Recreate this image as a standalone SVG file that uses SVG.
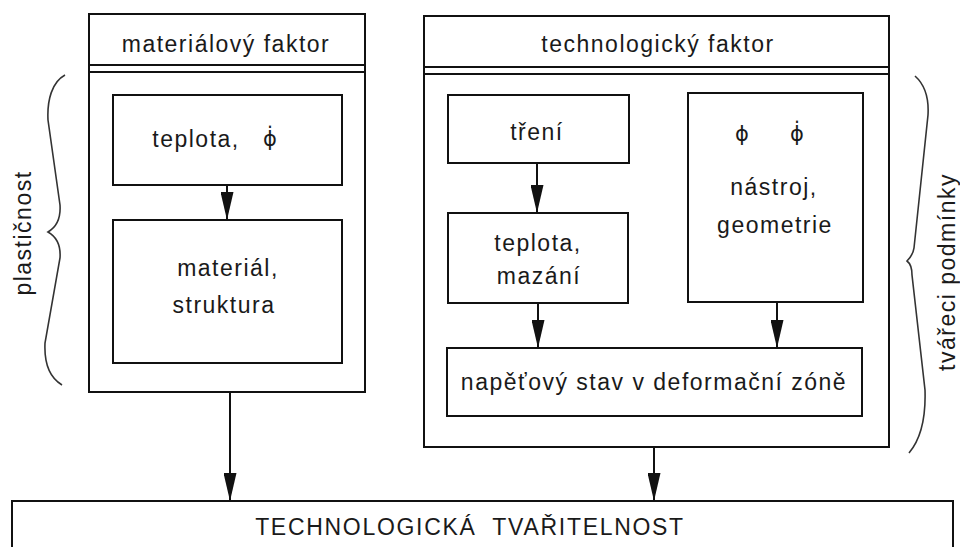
<svg xmlns="http://www.w3.org/2000/svg" width="960" height="547" viewBox="0 0 960 547">
<style>
  .box{fill:none;stroke:#111;stroke-width:2}
  .ln{fill:none;stroke:#111;stroke-width:2}
  .br{fill:none;stroke:#333;stroke-width:1.6}
  text{font-family:"Liberation Sans",Arial,sans-serif;font-size:23px;fill:#1a1a1a;letter-spacing:1.5px;text-anchor:middle}
  .phi{font-family:"DejaVu Sans",sans-serif;font-size:21px;letter-spacing:0}
</style>
<defs>
  <marker id="ah" viewBox="0 0 28 13" refX="28" refY="6.5" markerWidth="28" markerHeight="13" markerUnits="userSpaceOnUse" orient="auto">
    <path d="M0,0 L28,6.5 L0,13 Z" fill="#111"/>
  </marker>
</defs>
<rect width="960" height="547" fill="#fff"/>

<g id="material-factor">
  <rect class="box" x="89" y="14" width="276" height="378"/>
  <line class="ln" x1="89" y1="65" x2="365" y2="65"/>
  <line class="ln" x1="89" y1="72" x2="365" y2="72"/>
  <text x="226" y="52">materiálový faktor</text>
</g>
<g id="teplota-phi">
  <rect class="box" x="113" y="95" width="229" height="90"/>
  <text x="196" y="147">teplota,</text>
  <text class="phi" x="270" y="146">ϕ̇</text>
</g>
<g id="material-struktura">
  <rect class="box" x="113" y="220" width="229" height="143"/>
  <text x="228" y="276">materiál,</text>
  <text x="224" y="313">struktura</text>
</g>

<g id="tech-factor">
  <rect class="box" x="424" y="16" width="465" height="431"/>
  <line class="ln" x1="424" y1="67" x2="889" y2="67"/>
  <line class="ln" x1="424" y1="74" x2="889" y2="74"/>
  <text x="658" y="52">technologický faktor</text>
</g>
<g id="treni">
  <rect class="box" x="448" y="95" width="181" height="68"/>
  <text x="537" y="140">tření</text>
</g>
<g id="teplota-mazani">
  <rect class="box" x="448" y="213" width="180" height="90"/>
  <text x="538" y="251">teplota,</text>
  <text x="539" y="284">mazání</text>
</g>
<g id="nastroj-geometrie">
  <rect class="box" x="688" y="93" width="175" height="209"/>
  <text class="phi" x="742" y="141">ϕ</text>
  <text class="phi" x="797" y="141">ϕ̇</text>
  <text x="774" y="195">nástroj,</text>
  <text x="775" y="233">geometrie</text>
</g>
<g id="napetovy-stav">
  <rect class="box" x="447" y="348" width="415" height="68"/>
  <text x="654" y="390">napěťový stav v deformační zóně</text>
</g>

<g id="tvaritelnost">
  <rect class="box" x="12" y="501" width="941" height="70"/>
  <text x="470" y="535" xml:space="preserve" style="letter-spacing:1.7px">TECHNOLOGICKÁ  TVAŘITELNOST</text>
</g>

<g id="plasticnost">
  <path class="br" d="M65,75 C52,82 47,100 48,120 L60,205 C61,220 55,228 48,232 C55,236 61,244 60,258 L45,343 C44,365 50,378 62,385"/>
  <text transform="translate(31,233) rotate(-90)">plastičnost</text>
</g>
<g id="tvareci-podminky">
  <path class="br" d="M915,76 C924,84 929,98 928,115 L914,248 C913,255 910,258 907,261 C911,264 912,268 912,275 L925,390 C926,420 920,440 909,453"/>
  <text transform="translate(955,272) rotate(-90)">tvářeci podmínky</text>
</g>

<g id="connectors">
  <line class="ln" x1="227" y1="185" x2="227" y2="220" marker-end="url(#ah)"/>
  <line class="ln" x1="230" y1="392" x2="230" y2="501" marker-end="url(#ah)"/>
  <line class="ln" x1="537" y1="163" x2="537" y2="213" marker-end="url(#ah)"/>
  <line class="ln" x1="538" y1="303" x2="538" y2="348" marker-end="url(#ah)"/>
  <line class="ln" x1="777" y1="302" x2="777" y2="348" marker-end="url(#ah)"/>
  <line class="ln" x1="654" y1="447" x2="654" y2="501" marker-end="url(#ah)"/>
</g>
</svg>
